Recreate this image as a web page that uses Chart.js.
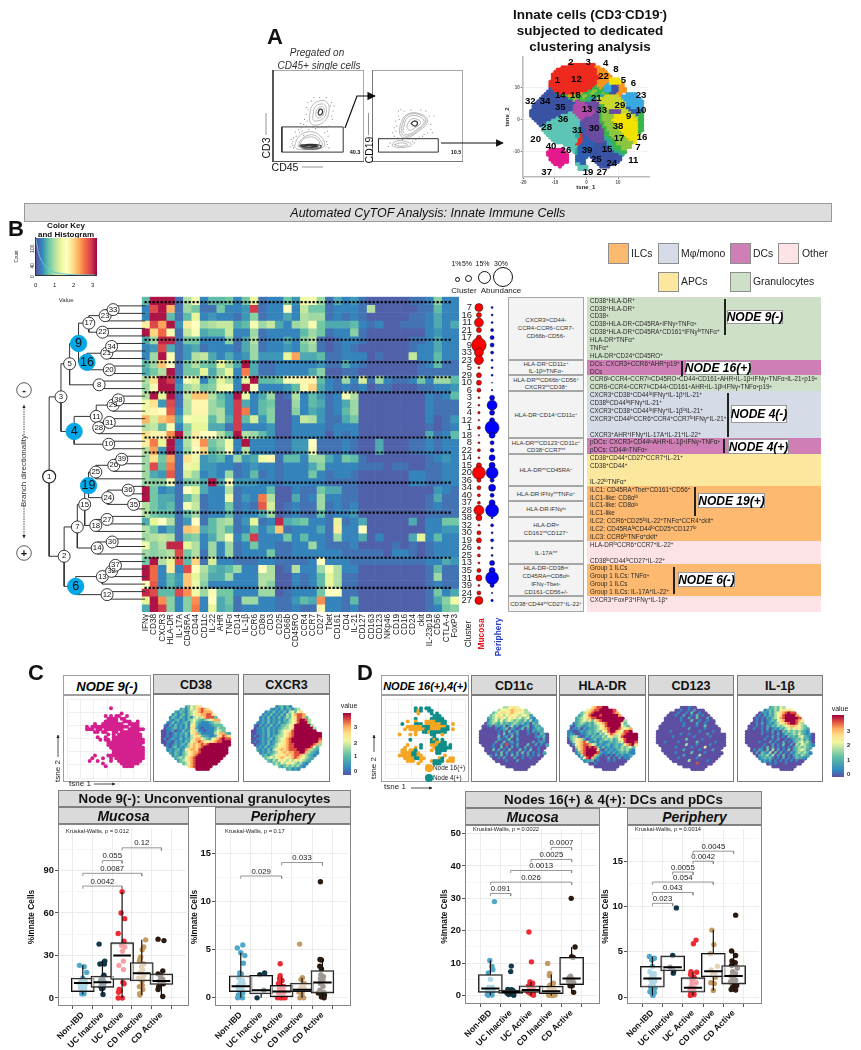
<!DOCTYPE html>
<html><head><meta charset="utf-8">
<style>
html,body{margin:0;padding:0;background:#fff;width:861px;height:1050px;overflow:hidden}
#root{position:relative;width:861px;height:1050px;overflow:hidden;font-family:"Liberation Sans",Arial,sans-serif;color:#111;filter:blur(.3px)}
.t{position:absolute;white-space:nowrap;line-height:1}
sup{font-size:70%;line-height:0;vertical-align:baseline;position:relative;top:-.4em}
svg{position:absolute;left:0;top:0;pointer-events:none}
</style>
<script src="https://cdn.jsdelivr.net/npm/chart.js@4"></script>
</head><body><div id="root"></div>
<script>
/* ---------- heatmap values ---------- */
const markers=["IFNγ","CD38","CXCR3","HLA-DR","IL-17A","CD45RA","CD44","CD11c","IL-22","AHR","TNFα","CD14","IL-1β","CCR6","CD8α","CD3","CD25","CD66b","CD45RO","CCR4","CCR7","CD27","Tbet","CD161","CD4","IL-21","CD127","CD163","CD123","NKp46","CD19","CD16","CD24","ckit","IL-23p19","CD56","CTLA-4","FoxP3"];
const clusters=[7,16,11,21,17,9,33,23,5,29,10,6,3,2,4,12,1,18,8,22,14,15,20,36,34,40,37,28,38,32,30,19,26,25,13,35,31,39,24,27];
const heatRows=[
[6,31,31,31,2,10,15,3,6,6,7,3,7,13,2,3,3,7,4,14,15,9,2,5,3,4,2,1,1,1,1,1,2,2,3,8,3,3],
[3,28,31,22,2,9,7,2,2,7,3,3,4,29,2,3,3,16,3,11,7,7,2,3,3,3,2,10,1,1,1,1,1,2,2,6,3,3],
[3,31,31,6,2,6,13,3,4,3,3,2,4,8,2,3,3,5,3,10,9,9,2,3,2,3,2,1,1,1,1,1,2,2,3,5,3,3],
[18,28,23,31,4,18,16,9,10,11,11,5,6,15,9,11,5,3,9,10,15,7,5,5,5,6,3,2,3,1,1,2,2,2,3,5,3,5],
[31,20,26,15,2,11,15,5,6,6,11,3,3,9,2,3,3,3,3,6,9,7,2,3,3,8,2,1,1,1,1,1,1,1,3,4,3,3],
[5,9,30,30,2,7,7,3,3,3,8,2,5,10,2,3,3,5,3,8,10,2,1,2,3,3,2,1,1,1,1,1,2,2,3,5,3,3],
[3,4,28,5,2,4,5,2,3,3,3,2,5,9,2,3,3,4,3,7,9,2,1,2,3,2,1,1,1,1,1,1,2,3,3,5,3,3],
[3,9,31,15,2,4,10,11,5,3,5,3,4,9,4,4,4,13,23,5,5,6,2,2,3,3,3,1,2,1,1,1,11,3,3,6,3,3],
[6,9,21,16,2,7,10,7,6,13,9,5,31,5,2,2,3,3,3,3,3,4,2,2,5,3,2,1,1,1,1,1,1,2,3,6,2,2],
[5,7,10,31,2,7,7,13,5,9,13,3,25,5,2,2,3,3,3,3,5,8,1,1,2,2,1,1,1,1,1,1,1,2,2,2,2,2],
[10,19,31,29,3,15,13,3,7,13,10,3,13,31,6,6,7,15,15,17,17,6,3,2,9,3,12,2,9,3,2,2,3,7,3,9,9,6],
[9,15,31,31,4,9,11,7,8,14,15,3,31,16,3,3,3,4,6,15,20,5,3,2,3,2,3,1,2,2,1,1,1,2,2,3,3,4],
[10,31,13,31,2,11,21,21,10,6,4,31,14,3,5,9,1,2,10,3,6,4,2,3,15,10,1,1,1,1,1,1,1,1,3,2,3,6],
[14,19,4,28,2,10,17,17,9,7,4,29,5,3,6,7,1,1,9,3,6,5,2,3,5,9,1,1,1,1,1,1,1,1,3,2,2,2],
[14,17,16,27,3,10,17,17,9,10,4,29,25,3,6,8,1,1,8,3,5,4,2,3,6,9,1,1,1,1,1,1,1,1,3,2,2,2],
[22,12,21,23,5,15,14,14,6,10,5,29,6,12,4,8,1,1,3,11,10,4,2,2,5,7,1,1,1,1,1,1,1,1,3,1,2,4],
[10,11,6,15,3,8,13,13,5,5,2,29,3,3,3,4,1,1,3,3,3,3,2,3,3,3,1,1,1,1,1,1,1,1,2,1,2,3],
[19,17,17,24,31,9,18,16,16,10,6,31,10,9,6,4,1,1,3,3,3,3,1,3,2,3,1,1,1,1,1,1,1,1,5,2,3,6],
[18,25,13,31,3,10,17,24,7,9,14,3,31,3,3,3,2,2,4,4,16,2,2,2,3,2,1,1,5,1,1,1,2,2,3,2,3,3],
[10,23,4,31,3,9,16,20,6,8,15,3,10,3,3,3,2,2,4,4,15,2,2,2,3,2,1,1,5,1,1,1,2,2,3,2,3,3],
[9,19,7,23,2,19,14,4,5,6,3,9,4,5,14,17,2,6,6,3,9,9,5,3,7,6,2,1,1,1,1,1,1,1,2,3,4,3],
[9,28,6,25,2,14,13,4,4,3,3,2,3,4,3,3,2,3,3,3,5,8,3,3,3,3,2,2,2,1,2,2,1,1,2,2,3,3],
[9,5,4,27,2,12,9,3,4,3,9,2,3,6,2,3,2,3,3,3,7,3,2,3,3,2,1,1,1,1,1,1,3,3,2,2,3,3],
[9,8,8,15,2,7,8,5,31,5,15,4,4,4,3,3,2,3,3,3,3,3,2,2,2,2,1,1,1,1,1,1,3,3,2,2,3,3],
[31,7,3,4,2,16,13,5,3,3,10,2,3,3,3,6,1,1,3,2,2,7,5,5,2,2,1,1,1,1,1,1,1,1,1,4,3,2],
[31,7,5,5,2,6,10,2,3,3,14,2,4,3,25,10,1,1,5,2,3,9,3,3,2,2,1,1,1,1,1,1,1,1,2,5,2,2],
[10,7,5,6,2,15,11,2,3,3,7,2,3,2,27,12,1,2,3,2,2,9,2,3,2,3,1,1,1,1,1,1,1,1,2,3,2,2],
[10,7,6,6,2,6,9,2,3,3,6,2,3,3,5,9,1,2,3,2,2,6,2,3,3,4,1,1,1,1,1,1,1,1,2,2,2,2],
[5,13,16,10,2,4,16,2,6,9,10,2,4,13,2,3,30,5,6,7,3,3,2,13,2,3,5,1,1,1,1,1,5,1,3,3,7,7],
[10,7,3,5,2,21,20,5,6,9,6,2,3,6,3,5,21,2,3,3,3,5,2,18,3,3,16,1,1,1,1,1,1,1,3,3,4,4],
[9,10,11,10,2,7,8,3,5,9,15,3,6,29,3,3,3,7,3,6,3,3,2,9,3,3,5,1,3,1,1,1,5,13,3,6,3,3],
[14,8,10,30,30,13,10,3,9,3,9,2,3,7,3,3,2,2,3,3,9,3,2,2,2,3,1,1,1,1,2,1,2,1,2,3,3,3],
[9,8,9,10,28,7,10,2,9,3,9,2,3,3,3,7,2,2,3,3,3,3,3,3,2,2,2,2,2,1,3,3,2,1,2,3,3,3],
[7,31,10,13,28,6,20,2,12,3,3,2,2,2,3,3,2,2,2,2,3,16,3,3,3,2,2,2,2,2,2,2,2,2,3,3,5,4],
[31,26,3,18,3,28,16,10,6,5,6,9,3,3,16,10,1,2,10,3,3,9,15,10,3,3,1,1,1,1,1,1,1,1,2,6,2,2],
[31,26,3,6,4,21,13,9,5,5,9,3,3,3,10,10,1,1,3,2,3,6,13,10,2,2,1,1,1,1,1,1,1,1,2,9,2,2],
[16,27,3,6,4,21,14,8,3,3,3,3,3,3,10,8,1,1,3,2,3,6,13,10,2,2,1,1,1,1,1,1,1,1,2,3,2,2],
[30,28,6,6,28,24,14,9,15,7,7,3,3,3,9,9,1,2,3,3,3,7,16,16,2,2,1,1,1,1,1,1,1,1,2,7,3,5],
[13,31,24,8,3,8,24,3,16,5,7,2,9,9,3,3,2,2,4,6,5,24,3,3,2,6,1,1,1,1,1,1,1,1,2,5,8,14],
[5,31,29,8,3,8,25,3,13,5,6,2,3,3,3,3,2,2,3,2,2,17,3,3,2,3,1,1,1,1,1,1,1,1,2,3,7,8]];
const rowBreaks=[0,5,8,10,12,18,20,24,28,34,38];
const mucosaAbund=[4,2.5,4.5,2.5,2.5,7.3,4.5,4.5,1,2.5,2.5,2,1,1,1.2,.8,1.5,.8,1,1.5,1,2.5,6.5,2,2,1.5,1.5,5,3,1,2,2.5,1.5,1.5,1,2,3,1,2,4];
const peripheryAbund=[1,1,1,1.5,2,2,1.5,1,1,1,.5,.8,2.5,5,2.5,2.5,7,3,2,2,3,3,6,2,3.5,2,3,6.5,1,1.5,1,1.5,1,1,2.5,3,6.5,2,.7,1.2];
const histCounts=[[0,118],[.1,88],[.2,62],[.35,42],[.5,30],[.7,19],[.9,12],[1.1,8],[1.4,5],[1.7,3],[2,2],[2.5,1],[3.1,1]];
/* ---------- dendrogram ---------- */
const treeNames=['1','3','2','5','4','9','8','17','16','23','22','33','21','34','20','11','10','29','38','28','31','7','6','15','14','19','18','25','24','26','39','36','35','27','30','13','32','37','12'];
const treeDepths=[41.7,54,57.3,63,67.7,72.3,93.7,83,81,100,97.3,108.3,101.7,106.7,104.3,90.7,103.7,108.3,113.7,93.3,104.3,71,69.3,78.7,91.7,82.7,90.3,90.3,102.7,109,117.3,124,129.7,102,107.3,97,106.7,110.7,102];
const treeRows=[23.2,12.6,33.8,8.2,17.2,5.5,11,2.8,8,1.8,4,1,6.8,5.9,9,15.2,18.9,13.7,13,16.7,16,29.9,37.8,26.9,32.7,24.4,29.7,22.6,26,21.7,20.9,25,26.9,28.9,31.9,36.5,35.8,35,38.9];
const treeParents=[null,'1','1','3','3','5','5','9','9','17','17','23','16','21','16','4','4','11','29','11','28','2','2','7','7','15','15','19','19','25','26','24','24','18','14','6','13','32','6'];
const treeLeaves=[[],[],[],[],[],[],[10,11],[],[],[2],[3,4],[0,1],[7],[5,6],[8,9],[],[18,19],[14],[12,13],[17],[15,16],[],[],[],[33],[],[30],[23],[],[22],[20,21],[24,25],[26,27],[28,29],[31,32],[37],[36],[34,35],[38,39]];
const blueNodes=['9','16','4','19','6'];
/* ---------- gating plots ---------- */
const gate1Rings=[[[40,51],[43,62],[52,68],[61,66],[63,55],[58,44],[47,39],[41,42]],[[44,51],[46,60],[52,64],[58,63],[60,55],[56,47],[48,44],[44,46]],[[47,52],[49,58],[53,61],[57,59],[57,54],[54,49],[49,48]],[[50,53],[52,58],[55,57],[55,53],[52,51]],[[22,14],[26,24],[34,30],[44,31],[53,26],[58,16],[52,11],[34,10],[25,11]],[[26,14],[30,22],[38,27],[46,27],[52,22],[55,15],[46,11],[34,11]],[[28,14],[32,22],[40,25],[48,23],[52,16],[46,12],[34,12]],[[28,15],[36,16],[48,16],[54,14],[48,11],[34,11]],[[30,14],[38,15],[50,14],[44,12],[34,12]],[[32,13.5],[40,14.5],[49,13.5],[42,12.5],[35,12.5]]];
const gate1Dots=[[20,20],[24,26],[36,38],[34,46],[38,58],[66,50],[28,30],[60,36],[62,26],[21,12],[19,17],[23,31],[30,36],[39,34],[36,52],[42,68],[65,62],[68,56],[58,30],[60,20],[29,41],[33,27],[47,35],[54,37],[21,24],[18,22],[20,15],[17,13],[27,34],[31,32],[33,40],[37,44],[38,66],[36,60],[45,72],[52,72],[60,72],[66,66],[69,62],[67,46],[63,38],[57,36],[50,36],[44,37],[61,32],[61,16],[63,12]];
const gate1Box=[[7,7],[80,7],[80,37],[7,37],[7,7]];
const gate2Rings=[[[29,39],[36,51],[52,53],[62,44],[50,31],[36,24],[29,28]],[[31,38],[37,50],[51,52],[60,44],[49,32],[37,26],[31,29]],[[33,36],[38,48],[50,50],[58,43],[48,33],[38,28],[33,30]],[[37,38],[42,46],[50,46],[54,42],[47,36],[40,33]],[[42,41],[46,44],[50,42],[47,38]],[[19,15],[24,20],[34,20],[43,16],[36,13],[24,13]],[[22,16],[30,18],[38,16],[30,14]]];
const gate2Dots=[[22,36],[24,44],[27,50],[20,30],[26,24],[30,58],[66,40],[70,50],[60,56],[56,26],[48,22],[44,20],[22,26],[32,22],[68,30],[62,30],[24,32],[25,38],[28,46],[27,56],[34,56],[42,57],[54,57],[64,50],[66,34],[58,28],[52,25],[17,18],[15,14],[46,18]];
const gate2Box=[[3,7],[75,7],[75,23],[3,23],[3,7]];
/* ---------- t-SNE maps, read as coarse rasters ---------- */
const tsneRaster=[
"                RRRRRRRRRRR",
"             RRRRRRRRRRRRRROO",
"           RRRRRRRRRRRRRRRRROOO",
"          RRRRRRRRRRRRRRRRRROOOO",
"         RRRRRRRRRRRRRRRRRRROOOOO",
"         RRRRRRRRRRRRRRRRRRRROOOOO",
"         RRRRRRRRRRRRRRRRRRRROOOOYYYY",
"        RRRRRRRRRRRRRRRRRRRROOOOOYYYYY",
"        RRRRRRRRRRRRRRRRRRRROOOOSYYYYYO",
"        RRRRRRRRRRRRRRRRRRREOOOSSSBBPOO",
"        BRRRRRRRRRRRRRRRRREEEOESSSBBBOOO",
"       BBBRRRRRRRRRRRRRREEGGEEESSSBBBOOO",
"      BBBBBERRRRRRRROOEEEGGEEEGEEBBBOO  SSSS",
"     BBBBBBBBEEEOOGEEEGGEEEEEAALLLLLLOSSSSSSS",
"    BBBBBBBBBBBBEEGGEEGEAAAALLLLLLLLLLSSSSSSSS",
"   BBBBBBBBBBBBBBBGMMEEEAAPPLLLLLLLLLLLSSSSSSSS",
"  BBBBBBBBBBBBBBBBBMMMMPPPPPPLLLLLLLLLLLSSSSSSS",
" BBBBBBBBBBBBBBBBBMMMMMMPPPPPEELLLLLLLLLSSSSSSS",
" BBBBBBBBBBBBBBBBBMMMMMMMMPPAEELLLLLLLLLNNSSSSS",
"BBBBBBBBBBBBBBBBBBMMMMMMMMMPPEEGGPPPPPLLLNNNNNN",
"BBBBBBBBBBBBBBBBTTMMMMMMMMMPPEGGGPPPPPLLLLNNNNE",
"BBBBBBBBBBBBBTTTTTTMMMMMMMPPPEGGGGGYYYYYYLLLNEE",
" BBBBBBBBBBTTTTTTTTTMMMPPPPPPEGGGGGYYYYYYYYLLEE",
"  BBBBBBBTTTTTTTTTTTTMPPPPPPPEGGGGYYYYYYYYYYLEE",
"   BBBBTTTTTTTTTTTTTTNPPPPPPPEEGGGGYYYYYYYYYYEE",
"    BBTTTTTTTTTTTTTTTNPPPPPPPPEGGGGYYYYYYYYYYEE",
"     TTTTTTTTTTTTTTTTNPPPPPPPPEEGGGGGYYYYYYYYEE",
"     TTTTTTTTTTTTTTTANNPPPPPPPPEGGGGGYYYYYYYYEE",
"      TTTTTTTTTTTTTAANNPPPPPPPPEEGGGGGYYYYYYYE",
"       TTTTTTTTTTTTAARNPPPPPPPPEEGGGGGGYYYYYY",
"        TTTTTTTTTTTAARNNPPPPPPPAEEGGGGGGYYYYY",
"         TTTTTTTTTTTRRNNNPPPPPPAAEEGGGGGGYYY",
"          TTTTTTTTTTRRNNNNNPPPPBAAEEGGGGGGGY",
"              TTTTTRRNNNNNNBBBBBAAEEGGGGGG",
"                TTTTNNNNNNNBBBBBBAAEEEGGGG",
"        KKKKKK   TTANNNNNNBBBBBBBAAEEEGG",
"       KKKKKKKK   TANNNNNNBBBBBBBBBAAEEE",
"       KKKKKKKKK   ANNNNNBBBBBBBBBBBBAA",
"        KKKKKKKK   NNNNN BBBBBBBBBBBBB",
"        KKKKKKKK   NNNN   BBBBBBBBBBBB",
"         KKKKKKK   NNNN    BBBBBBBBBB",
"          KKKK     TTNN     BBBBBBB",
"            K       TTTT     BBBB",
"                    TTTT"];
const clusterNames=[2,3,4,22,8,1,12,5,6,23,14,18,21,29,32,34,35,13,33,10,9,36,38,28,31,30,16,17,20,40,7,15,26,39,11,25,24,37,19,27];
const clusterX=[-4.9,.5,6.1,5.4,9.3,-9.2,-3.2,11.7,14.9,17.3,-8.3,-3.5,3.1,10.6,-17.8,-13.1,-8.3,.2,4.8,17.3,13.4,-7.4,10,-12.6,-2.9,2.4,17.6,10.3,-16.1,-11.2,16.3,6.5,-6.5,.2,14.8,3.1,8,-12.6,.5,4.9];
const clusterY=[17.7,17.7,17.6,13.5,15.8,12.2,12.4,12.1,11.2,7.6,7.7,7.7,6.5,4.3,5.8,5.8,3.9,3.3,2.8,2.8,1,.1,-2.2,-2.5,-3.4,-2.8,-5.4,-6,-6.3,-8.3,-8.7,-9.3,-9.6,-9.6,-12.7,-12.3,-13.5,-16.5,-16.4,-16.4];
const cd38Raster=[
"         235466",
"       23135467876",
"     21321345678777",
"    1312313456677886",
"   132132131454678883",
"   2123121345432345677",
"  11312123145321112344",
" 1021312131563111112333",
" 01123121316621011112433",
"001120113125641101113543",
"00101212231567311111457732",
"00101212131466632211266876",
"01012113122467754325678988",
"00110212132567876566788999",
" 0101212314676787899999999",
"  10231213467678999999999",
"  12123125677689999999999",
"   2132134567789999999999",
"    13213456789999999999",
"     234356789999999999",
"      2345678999999999",
"        3457899999999",
"          678999999",
"             99999"];
const cxcr3Raster=[
"         123131",
"       21213123134",
"     12131213145356",
"    1213121314357887",
"   121312131243568873",
"   1213121213245689984",
"  11213121312345689994",
" 1021213121334569999994",
" 01121312123445699999994",
"001121312134556899999999",
"00112131213456789999999999",
"01012131234456789999999999",
"00112123134557899999999998",
"01012131234567899999999997",
" 0112131245567889999999874",
"  12131234566788999999853",
"  21213145676788899987432",
"   1213234567677889974321",
"    23134565676788764321",
"     345456765678765432",
"      3243565454565432",
"        3435456543421",
"          3234343421",
"             23121"];
const cd11cRaster=[
"         445565",
"       45556766654",
"     34566567655544",
"    3456545655645542",
"   234546545654534521",
"   1345353454343242412",
"  02343242323432312032",
" 0012022130241201230132",
" 00000101230210130201232",
"000000010203012000102122",
"00000001030120200010010320",
"00000003012030100000012130",
"00000002101300200000001020",
"00000020030120100000201210",
" 0000100208010200030020102",
"  00010030102010020100100",
"  0003020103000301030010",
"   0001030201020302010102",
"    10203010302010201020",
"     001020002001001000",
"      0000100020000000",
"        0000000000000",
"          000000000",
"             00000"];
const hladrRaster=[
"         678899",
"       56788999998",
"     34678999999987",
"    2356899989999997",
"   234567889999999999",
"   2345463678999999994",
"  12343232456789999953",
" 1023212323456899999543",
" 01120212234567899986567",
"110012123234356899765889",
"12100112323143568765789999",
"13441012132324356445899999",
"03456420123123434235689999",
"01456786212132123234589998",
" 0256788754121231232357896",
"  04678989831312123243453",
"  02678999961021212343421",
"   1378999982112121232311",
"    14899973101010212112",
"     258973100020102011",
"      1223010001010000",
"        0010000000000",
"          000000000",
"             00000"];
const cd123Raster=[
"         000100",
"       00100102000",
"     00010010300100",
"    0001002001030100",
"   000000100200300020",
"   0000001000300100100",
"  00000000100002001000",
" 0000000001000010030000",
" 00000000000200000100000",
"000001000000000010000100",
"00000000010010000002000000",
"00000010000000100000100000",
"00000000000300000100000000",
"00010000100000030000001000",
" 0000000000400010000100000",
"  00000100000100005000000",
"  0000000020000010000200",
"   0000100000300001000000",
"    00000020000040000000",
"     000100000010000000",
"      0000004000000100",
"        0000000800000",
"          000000000",
"             00000"];
const il1bRaster=[
"         234354",
"       12324356565",
"     01213245678988",
"    0102132456899997",
"   010102134578999998",
"   0101012325679999875",
"  00102012134567899864",
" 0001010213243456776543",
" 00100102012132454565432",
"000000101020103243434321",
"00000010001020132343532120",
"00000000102010103232453210",
"00000001001020010123342310",
"00000100020100201023453420",
" 0000001002010300204354321",
"  00001030201010102343432",
"  0102103040201030234542",
"   0203214030201021343431",
"    02324140203010232432",
"     123231010201013221",
"      1212010101010100",
"        0101000100000",
"          000000000",
"             00000"];
const node9Raster=["","","",
"                #","",
"                    #",
"              # # ##  #",
"               #### ##",
"              #####  ###  #",
"          #  ########  ####",
"       # ############## ###",
"       ### ## #######  ######",
"          ## ##  ## #######",
"               # # #########",
"           #  #  ###########",
"            # ## ############",
"               ##############",
"               #############",
"                #############",
"                 ############",
"                 ############",
"          #    ##############",
"         #   #  # ###########",
"        #  #    #  #########",
"             #      #######",
"              #      ####"];
const node164Raster=["","","",
"           t t tt",
"           tot  tt",
"            o    t t",
"                  ttt",
"           t     ttttt",
"        o  o   ooootttt",
"      t    ttt oooooott  o",
"        ooooootttoooooot",
"       o oooooottoooottt o",
"           o  ttotttttt",
"     o   o o     tt  o",
"                  t",
"         t       tot t",
"                 ttoott",
"        o    t   ooottt t",
"       o   o t    otttttt",
"      oo oot     o tttt",
"      ooootto      tt",
"     ooooottoo        o",
"       oooottoo     ot  oo",
"        ooo  o   otttt ooo",
"            o     ttt"];
/* ---------- box plots ---------- */
const groups=["Non-IBD","UC Inactive","UC Active","CD Inactive","CD Active"];
const cMucPts=[
[[-.17,23],[.07,22],[.2,18],[0,14],[-.1,12],[.12,12],[.02,11],[-.15,10],[.13,10],[-.05,9],[.05,8],[-.12,7],[.1,7],[-.05,6],[.05,5],[0,4],[.06,3],[-.05,3]],
[[-.17,38],[.12,26],[.07,25],[-.13,24],[.1,24],[.08,16],[-.05,14],[.02,13],[-.1,12],[.1,11],[-.03,10],[.05,9],[-.08,8],[.03,7],[-.04,6.5],[.03,2.5]],
[[0,75],[-.05,60],[.13,56],[-.2,45.5],[.1,40],[-.02,37],[.13,36],[.02,33],[.07,26],[-.16,23],[.07,20],[.04,11],[.1,10],[-.15,6],[-.1,5],[-.18,4],[-.2,0],[.01,0]],
[[.2,41],[.1,36],[.02,34],[-.05,29],[-.08,28],[-.12,26],[.1,24],[-.02,22],[.05,20],[-.08,18],[.1,16],[-.15,14],[.05,14],[-.03,13],[.02,12],[.02,9],[-.12,8],[.05,6],[-.1,3],[-.09,2]],
[[-.17,41.5],[.13,40.5],[.07,19],[-.17,17],[-.03,15],[.07,13],[-.1,12],[.03,11],[.1,10],[-.14,8],[-.17,6],[.07,1]]];
const cMucQ1=[4.5,7.5,13,12,9.5],cMucMed=[10.5,11,30,17.5,12],cMucQ3=[14,15.5,39,25,17],cMucLo=[2.5,2.5,0,2,1],cMucHi=[23,26,75,41,19];
const cMucBr=[[1,3,79,"0.0042"],[1,4,88,"0.0087"],[2,3,97,"0.055"],[3,5,106,"0.12"]];
const cPerPts=[
[[.1,5.5],[-.17,5.2],[0,4.7],[.2,4.4],[.13,3.6],[-.05,2.6],[.03,2.5],[-.1,2.1],[.08,1.8],[-.02,1.6],[.12,1.5],[-.1,1.3],[.03,1.1],[-.12,1],[.07,.9],[-.05,.8],[.1,.5],[-.12,.3],[-.03,.1],[-.15,0],[.08,0]],
[[.17,2.6],[-.07,2.4],[.13,.8],[-.2,0]],
[[-.07,3.55],[-.07,2.3],[-.1,2],[.02,1.8],[-.15,1.5],[.1,1.2],[-.1,1],[.05,.9],[-.05,.8],[.12,.6],[-.15,.5],[.02,.4],[-.08,.2],[.1,.1],[-.2,0],[-.05,0],[.05,0],[.17,0]],
[[-.12,5.6],[.02,2.1],[-.05,1.9],[.1,1.5],[-.02,1.2],[.1,1],[-.1,.9],[.05,.8],[-.15,.6],[0,.4],[-.1,0],[.08,0]],
[[-.1,12.1],[-.12,4],[-.05,3.95],[-.13,3.3],[-.05,3],[-.08,2.4],[.05,2.2],[-.1,2],[.02,1.8],[-.1,1.5],[.03,1.2],[-.12,.8],[.05,.6],[-.2,.5],[0,.4],[.1,.3],[-.05,.1],[.08,0]]];
const cPerQ1=[.65,.4,.1,.65,.5],cPerMed=[1.2,.8,.65,.85,1.6],cPerQ3=[2.3,2.35,1.3,1.55,2.85],cPerLo=[0,0,0,0,0],cPerHi=[4.7,2.6,2.2,2.1,4];
const cPerBr=[[1,3,12.7,"0.029"],[3,5,14.1,"0.033"]];
const dMucPts=[
[[.2,29],[-.03,10.8],[.08,9],[.12,8],[-.1,7],[0,5],[-.08,2.5],[.1,2.6],[.03,2.2],[-.15,1.8],[.13,1.5],[0,1.2],[-.1,.8],[.05,.6],[-.15,.3],[-.1,.1],[.08,.2]],
[[.03,9.1],[0,7.4],[-.14,1.9],[.05,1.8],[.12,1.5],[-.08,1.2],[.02,1],[.15,.9],[-.18,.8],[-.05,.6],[.1,.5],[-.1,.3],[.15,.1]],
[[-.1,19.6],[.02,10.4],[-.05,4.2],[.08,3.8],[-.12,3],[0,2.6],[.1,2.2],[-.08,2],[.02,1.8],[.13,1.4],[-.15,1.2],[0,1],[-.07,.9],[.12,.7],[.03,.4],[.12,.1]],
[[-.18,9.9],[-.08,6.8],[-.1,6.2],[.1,3.8],[-.07,3.2],[.05,2.8],[-.13,2.5],[.02,2.1],[.13,1.8],[-.05,1.5],[.05,1.2],[-.15,.9],[.1,.6],[-.05,.4],[.18,.2],[-.12,.1],[.05,0]],
[[-.02,30],[.17,15],[0,12],[.08,11.8],[-.05,6],[-.12,5.5],[.05,5],[-.15,4.5],[.1,4],[-.08,3],[.03,3],[.1,1]]];
const dMucQ1=[1,.7,1,.6,3.4],dMucMed=[2.2,1.1,1.7,1.3,5.3],dMucQ3=[6.5,1.7,3,2.9,11.8],dMucLo=[.1,.1,.1,0,1],dMucHi=[10.8,1.9,4.2,6.5,15];
const dMucBr=[[1,2,31.5,"0.091"],[1,5,35,"0.026"],[2,5,38.6,"0.0013"],[3,5,42,"0.0025"],[4,5,45.7,"0.0007"]];
const dPerPts=[
[[-.15,4.5],[.1,4.3],[-.03,4.1],[0,3.4],[-.12,2.8],[.1,2.6],[-.02,2.4],[.08,2.2],[-.1,2],[.12,1.8],[-.03,1.6],[.04,1.4],[-.1,1.2],[.12,1],[-.05,.9],[.04,.7],[-.12,.6],[.1,.5],[0,.3],[.03,.2]],
[[.18,9.85],[0,4.6],[-.13,3.3],[.05,2.9],[.03,2.65]],
[[.15,6.3],[.02,5.9],[-.1,2.8],[.18,2.75],[-.12,2.5],[.05,2.2],[-.05,1.9],[.15,1.6],[-.05,1.5],[-.1,1.1],[.05,1],[-.14,.8],[0,.6],[-.1,.4],[-.13,.2],[.05,.3]],
[[-.07,7.4],[.03,5.8],[-.15,4.8],[.2,3.4],[-.1,3],[.08,2.6],[-.03,2.5],[.1,2.2],[-.12,1.6],[.05,1.5],[0,.75]],
[[.1,9.05],[-.1,5.1],[.1,4.6],[-.08,4],[.08,3.8],[-.1,3.5],[.18,3.2],[-.05,2.8],[.1,2.6],[-.12,2.3],[0,2.1],[.1,1.9],[-.15,1.7],[.03,1.6],[.15,1.3],[-.05,1.1],[.03,.9],[-.12,.85],[.1,.8]]];
const dPerQ1=[1.1,2.9,.55,2.25,1.45],dPerMed=[2.05,3.3,1.05,2.85,2.35],dPerQ3=[3.4,4.55,2.15,4.85,3.5],dPerLo=[.2,2.6,.2,.7,.8],dPerHi=[4.5,4.6,2.8,7.4,5.1];
const dPerBr=[[1,2,10.35,"0.023"],[1,3,11.55,"0.043"],[1,4,12.7,"0.054"],[2,3,13.8,"0.0055"],[3,4,15,"0.0042"],[3,5,16.1,"0.0045"]];
/* ---------- phenotype table text ---------- */
const phenoRows=["CD38^+HLA-DR^+","CD38^+HLA-DR^+","CD38^+","CD38^+HLA-DR^+CD45RA^+IFNγ^+TNFα^+","CD38^+HLA-DR^+CD45RA^+CD161^+IFNγ^loTNFα^+","HLA-DR^+TNFα^+","TNFα^+","HLA-DR^+CD24^+CD45RO^+","DCs: CXCR3+CCR6^+AHR^+p19^+","DCs","CCR6^loCCR4^+CCR7^loCD45RO^+CD44^+CD161^+AHR^+IL-1β^+IFNγ^+TNFα^+IL-21^+p19^+","CCR6^+CCR4^+CCR7^loCD44^+CD161^+AHR^+IL-1β^loIFNγ^+TNFα^+p19^+","CXCR3^+CD38^+CD44^loIFNγ^+IL-1β^+IL-21^+","CD38^loCD44^loIFNγ^+IL-21^+","CXCR3^+CD38^+CD44^loIFNγ^+IL-1β^loIL-21^+","CXCR3^+CD44^loCCR6^+CCR4^+CCR7^loIFNγ^+IL-21^+","","CXCR3^+AHR^+IFNγ^+IL-17A^+IL-21^+IL-22^+","pDCs: CXCR3^+CD44^loAHR^+IL-1β^+IFNγ^+TNFα^+","pDCs: CD44^loTNFα^+","CD38^+CD44^+CD27^+CCR7^+IL-21^+","CD38^+CD44^+","","IL-22^loTNFα^+","ILC1: CD45RA^+Tbet^+CD161^+CD56^+","ILC1-like: CD8α^lo","ILC1-like: CD8α^lo","ILC1-like","ILC2: CCR6^+CD25^loIL-22^+TNFα^+CCR4^+ckit^+","ILC2: CD45RA^loCD44^loCD25^+CD127^lo","ILC3: CCR6^loTNFα^+ckit^+","HLA-DR^loCCR6^+CCR7^+IL-22^+","","CD38^loCD44^loCD27^+IL-22^+","Group 1 ILCs","Group 1 ILCs: TNFα^+","Group 1 ILCs","Group 1 ILCs: IL-17A^+IL-22^+","CXCR3^+FoxP3^+IFNγ^+IL-1β^+",""];
const bandStarts=[0,8,10,12,18,20,24,31,34,38];
const bandTypes=["Granulocytes","DCs","Granulocytes","Mφ/mono","DCs","APCs","ILCs","Other","ILCs","Other"];
const cellStarts=[0,8,10,12,18,20,24,26,28,31,34,38];
const cellLines=[["CXCR3^loCD44^+","CCR4^+CCR6^+CCR7^+","CD66b^+CD56^+"],["HLA-DR^+CD11c^+","IL-1β^loTNFα^+"],["HLA-DR^intCD66b^+CD56^+","CXCR3^intCD38^+"],["HLA-DR^+CD14^+CD11c^+"],["HLA-DR^intCD123^+CD11c^+","CD38^+CCR7^int"],["HLA-DR^intCD45RA^+"],["HLA-DR^-IFNγ^intTNFα^+"],["HLA-DR^-IFNγ^hi"],["HLA-DR^lo","CD161^intCD127^+"],["IL-17A^int"],["HLA-DR^+CD38^int","CD45RA^intCD8α^lo","IFNγ^+Tbet^+","CD161^+CD56+/-"],["CD38^+CD44^intCD27^+IL-22^+"]];

/* ---------- helpers ---------- */
const root=document.getElementById('root');
const spectral=['#5e4fa2','#3288bd','#66c2a5','#abdda4','#e6f598','#ffffbf','#fee08b','#fdae61','#f46d43','#d53e4f','#9e0142'];
const digitColors=['#5e4fa2','#3288bd','#4aa5b0','#66c2a5','#abdda4','#f0f5a0','#fee08b','#fdae61','#e0503f','#9e0142'];
const typeColors={"ILCs":"#fdb96f","Mφ/mono":"#d6dbe8","DCs":"#cf7fb5","Other":"#fde3e5","APCs":"#fbe79d","Granulocytes":"#cfe0c8"};
const clusterColors={R:'#ee2a1e',O:'#f7941d',Y:'#f2e200',L:'#c9d82c',G:'#8cc63f',E:'#39b54a',T:'#5dc5b5',B:'#3a53a4',P:'#6a4ca0',M:'#b04aa8',S:'#39a9e0',K:'#e6198d',N:'#2f5fb0',A:'#2fa89a'};
const groupColors=['#4fa8c9','#12394a','#ee2b35','#c49a62','#2b1a10'];
function hex2(c){return [1,3,5].map(i=>parseInt(c.substr(i,2),16));}
function heatColor(v){const t=Math.min(10,v/32*10),i=Math.min(9,Math.floor(t)),f=t-i,a=hex2(spectral[i]),b=hex2(spectral[i+1]);
  return 'rgb('+a.map((x,k)=>Math.round(x+(b[k]-x)*f)).join(',')+')';}
function fmt(s){return s.replace(/\^(\+|-|hi|lo|int)/g,'<sup>$1</sup>');}
function T(x,y,s,o={}){const d=document.createElement('div');d.className='t';
  const ax=o.a==='l'?'0':o.a==='r'?'-100%':'-50%';
  d.style.cssText+=`left:${x}px;top:${y}px;font-size:${o.s||8}px;font-weight:${o.b?'bold':'normal'};font-style:${o.i?'italic':'normal'};color:${o.c||'#111'};transform:translate(${ax},-50%);`;
  if(o.r)d.style.transform=`translate(-50%,-50%) rotate(${o.r}deg)`;
  d.innerHTML=fmt(s);root.appendChild(d);return d;}
function R(x1,y1,x2,y2,bg,bd,bw){const d=document.createElement('div');
  d.style.cssText=`position:absolute;box-sizing:border-box;left:${x1}px;top:${y1}px;width:${x2-x1}px;height:${y2-y1}px;background:${bg||'transparent'};${bd?`border:${bw||1}px solid ${bd};`:''}`;
  root.appendChild(d);return d;}
function strip(x1,y1,x2,y2,s,o){const d=R(x1,y1,x2,y2,o.bg||'#d9dad9',o.bd||'#808080',o.bw||1.2);
  T((x1+x2)/2,(y1+y2)/2+.5,s,o);return d;}
function raster(rows,fn){const out=[];rows.forEach((line,r)=>{[...line].forEach((ch,c)=>{if(ch!==' ')out.push(fn(ch,c,r));});});return out;}
Chart.register({id:'ptxt',afterDatasetsDraw(chart){const ctx=chart.ctx;
  chart.data.datasets.forEach((ds,i)=>{if(!ds.txt)return;const m=chart.getDatasetMeta(i);
    ctx.save();ctx.textAlign='center';ctx.textBaseline='middle';
    m.data.forEach((el,j)=>{const t=ds.txt[j];if(t===''||t==null)return;
      const f=typeof ds.txtSize==='function'?ds.txtSize(j):ds.txtSize;
      ctx.font=(ds.txtWeight||'')+' '+f+'px "Liberation Sans",Arial,sans-serif';ctx.fillStyle=ds.txtColor||'#111';
      ctx.fillText(t,el.x,el.y+(ds.txtDy||0));});
    ctx.restore();});}});
function addChart(cfg,plot,gut){let [pl,pt,pr,pb]=plot;let [gl,gt,gr,gb]=gut||[0,0,0,0];
  const L=Math.floor(pl-gl),Rr=Math.ceil(pr+gr),Tp=Math.floor(pt-gt),B=Math.ceil(pb+gb);
  gl=pl-L;gr=Rr-pr;gt=pt-Tp;gb=B-pb;
  const c=document.createElement('canvas');const w=Rr-L,h=B-Tp;c.width=w;c.height=h;
  c.style.cssText=`position:absolute;left:${L}px;top:${Tp}px;width:${w}px;height:${h}px;`;root.appendChild(c);
  const o=cfg.options=cfg.options||{};o.responsive=false;o.animation=false;o.maintainAspectRatio=false;
  o.plugins=Object.assign({legend:{display:false},tooltip:{enabled:false}},o.plugins||{});
  const pad={left:gl,top:gt,right:gr,bottom:gb};
  Object.entries(o.scales||{}).forEach(([k,s])=>{if(s.display===false)return;
    const zero=ax=>{ax.paddingLeft=ax.paddingRight=ax.paddingTop=ax.paddingBottom=0;};
    if(k==='x'){pad.bottom=0;s.afterFit=ax=>{ax.height=gb;zero(ax);};}
    else{pad.left=0;s.afterFit=ax=>{ax.width=gl;zero(ax);};}});
  o.layout={padding:pad};return new Chart(c,cfg);}

/* ---------- Panel A ---------- */
T(275,37,'A',{s:22,b:1});
T(317,53,'Pregated on',{s:10,i:1,c:'#333'});
T(319,66,'CD45+ single cells',{s:10,i:1,c:'#333'});
function gatePlot(plot,rings,dots,box,nDark){
  const ds=rings.map((r,i)=>({type:'scatter',data:[...r,r[0]].map(p=>({x:p[0],y:p[1]})),showLine:true,tension:.45,pointRadius:0,borderWidth:nDark.includes(i)?1.3:.7,borderColor:nDark.includes(i)?'#333':'#9a9a9a',clip:false}));
  ds.push({type:'scatter',data:dots.map(p=>({x:p[0],y:p[1]})),pointRadius:.55,backgroundColor:'#777',borderWidth:0});
  ds.push({type:'scatter',data:box.map(p=>({x:p[0],y:p[1]})),showLine:true,pointRadius:0,borderWidth:1,borderColor:'#333'});
  addChart({type:'scatter',data:{datasets:ds},options:{scales:{x:{display:false,min:0,max:100},y:{display:false,min:0,max:100}}}},plot);
  R(plot[0],plot[1],plot[2],plot[3],null,'#a8a8a8',1);
}
gatePlot([272,70,364,162],gate1Rings,gate1Dots,gate1Box,[3,7,8,9]);
gatePlot([372,70,463,162],gate2Rings,gate2Dots,gate2Box,[4]);
R(272,70,273.5,162,'#555');R(272,161,364,162.2,'#555');
R(372,70,373.2,162,'#777');R(372,161,463,162.2,'#777');
T(355,153,'40.3',{s:5.5,b:1});T(456,153,'10.5',{s:5.5,b:1});
T(266,148,'CD3',{s:10.5,r:-90});T(285,167,'CD45',{s:10.5});T(369,150,'CD19',{s:10.5,r:-90});

/* main t-SNE */
const tsnePts=raster(tsneRaster,(ch,c,r)=>({x:(60+7.5*c+3.75-236)/9.8,y:(218-(45+7.5*r+3.75))/9.9,k:ch}));
addChart({type:'scatter',data:{datasets:[
  {data:tsnePts,pointRadius:2,borderWidth:0,pointBackgroundColor:tsnePts.map(p=>clusterColors[p.k])},
  {data:clusterNames.map((n,i)=>({x:clusterX[i],y:clusterY[i]})),pointRadius:0,txt:clusterNames.map(String),txtSize:9.6,txtWeight:'bold',txtColor:'#000',clip:false}
]},options:{scales:{
  x:{min:-20.2,max:19.8,border:{color:'#bbb',width:1.5},grid:{color:'#f2f2f2',tickLength:2,tickColor:'#777'},afterBuildTicks:a=>{a.ticks=[-20,-10,0,10].map(value=>({value}));},
    ticks:{font:{size:4.5,weight:'bold'},color:'#555',padding:1,maxRotation:0,autoSkip:false},title:{display:true,text:'tsne_1',font:{size:6,weight:'bold'},color:'#222',padding:{top:1,bottom:0}}},
  y:{min:-17.9,max:19.5,border:{color:'#bbb',width:1.5},grid:{color:'#f2f2f2',tickLength:2,tickColor:'#777'},afterBuildTicks:a=>{a.ticks=[-10,0,10].map(value=>({value}));},
    ticks:{font:{size:4.5,weight:'bold'},color:'#555',padding:1,autoSkip:false},title:{display:true,text:'tsne_2',font:{size:6,weight:'bold'},color:'#222',padding:{top:0,bottom:1}}}
}}},[522.7,53,653,177],[18,0,0,14]);
T(590,15,'Innate cells (CD3^-CD19^-)',{s:13.5,b:1});
T(590,31,'subjected to dedicated',{s:13.5,b:1});
T(590,47,'clustering analysis',{s:13.5,b:1});

/* banner */
strip(23.5,203,832,221.5,'Automated CyTOF Analysis:  Innate Immune Cells',{s:12.5,i:1,bg:'#dcdddc',bd:'#9a9a9a'});
T(16,229,'B',{s:22,b:1});

/* ---------- Colour key ---------- */
T(66,225.5,'Color Key',{s:8,b:1});T(66,235,'and Histogram',{s:8,b:1});
R(35.7,237.7,96.7,275.3).style.background='linear-gradient(to right,'+spectral.join(',')+')';
addChart({type:'scatter',data:{datasets:[{data:histCounts.map(p=>({x:p[0],y:p[1]})),showLine:true,tension:.3,pointRadius:0,borderColor:'#5fc6e0',borderWidth:1}]},
 options:{scales:{x:{min:0,max:3.21,grid:{display:false,tickLength:3,tickColor:'#333'},border:{display:true,color:'#333'},afterBuildTicks:a=>{a.ticks=[0,1,2,3].map(value=>({value}));},ticks:{font:{size:6},color:'#222',padding:3,maxRotation:0,autoSkip:false},title:{display:true,text:'Value',font:{size:6},color:'#333',padding:{top:2,bottom:0}}},
 y:{min:0,max:122,grid:{display:false,tickLength:2,tickColor:'#333'},border:{display:true,color:'#333'},afterBuildTicks:a=>{a.ticks=[0,40,100].map(value=>({value}));},ticks:{font:{size:5},color:'#222',padding:1,minRotation:90,maxRotation:90,autoSkip:false},title:{display:true,text:'Count',font:{size:4.5},color:'#333',padding:{top:0,bottom:0}}}}}},
 [35.7,237.7,96.7,275.3],[21,0,1,28]);

/* ---------- Heatmap ---------- */
addChart({type:'bar',data:{labels:markers,datasets:heatRows.map((row,i)=>({label:String(clusters[i]),data:row.map(()=>1),backgroundColor:row.map(heatColor),borderWidth:0,stack:'s',categoryPercentage:1,barPercentage:1}))},
 options:{scales:{x:{stacked:true,grid:{display:false,drawTicks:false},border:{display:false},ticks:{font:{size:8.2},color:'#222',padding:2,minRotation:90,maxRotation:90,autoSkip:false}},
 y:{display:false,stacked:true,min:0,max:40,reverse:true}}}},[141.7,296.7,459,612],[0,0,0,42]);

/* dendrogram + dashed group separators */
const treeLineData=[];
treeNames.forEach((n,i)=>{const p=treeParents[i];
  if(p!==null){const pi=treeNames.indexOf(p);treeLineData.push({x:treeDepths[pi],y:treeRows[pi]},{x:treeDepths[pi],y:treeRows[i]},{x:treeDepths[i],y:treeRows[i]},{x:treeDepths[i],y:null});}
  treeLeaves[i].forEach(l=>{treeLineData.push({x:treeDepths[i],y:treeRows[i]},{x:treeDepths[i],y:l+.5},{x:141.7,y:l+.5},{x:141.7,y:null});});});
const sepData=[];rowBreaks.forEach(r=>{sepData.push({x:141,y:r},{x:460,y:r},{x:460,y:null});});
const isBlue=n=>blueNodes.includes(n);
addChart({type:'scatter',data:{datasets:[
 {data:treeNames.map((n,i)=>({x:treeDepths[i],y:treeRows[i]})),pointRadius:treeNames.map(n=>isBlue(n)?8.2:(n==='1'?6.5:6)),pointBackgroundColor:treeNames.map(n=>isBlue(n)?'#00a8e8':'#fff'),pointBorderColor:treeNames.map(n=>isBlue(n)?'#00a8e8':'#222'),pointBorderWidth:treeNames.map(n=>n==='1'?1.2:.9),txt:treeNames,txtSize:j=>isBlue(treeNames[j])?12.5:7.8,txtColor:'#111',order:1,clip:false},
 {data:treeLineData,showLine:true,spanGaps:false,pointRadius:0,borderColor:'#333',borderWidth:1,order:2,clip:false},
 {data:sepData,showLine:true,spanGaps:false,pointRadius:0,borderColor:'#000',borderWidth:2.1,borderDash:[2.2,1.8],order:0,clip:false}
]},options:{scales:{x:{display:false,min:0,max:461},y:{display:false,min:0,max:40,reverse:true}}}},[0,296.7,461,612],[0,3,0,0]);

/* cluster labels & abundance bubbles */
addChart({type:'bubble',data:{datasets:[
 {data:mucosaAbund.map((r,i)=>({x:1,y:i+.5,r})),backgroundColor:'#ff0000',borderColor:'#111',borderWidth:.5,clip:false},
 {data:peripheryAbund.map((r,i)=>({x:2,y:i+.5,r})),backgroundColor:'#0000ff',borderColor:'#111',borderWidth:.5,clip:false}
]},options:{scales:{x:{display:false,min:.476,max:2.765},
 y:{min:0,max:40,reverse:true,grid:{display:false,drawTicks:false},border:{display:false},afterBuildTicks:a=>{a.ticks=clusters.map((c,i)=>({value:i+.5}));},ticks:{autoSkip:false,font:{size:9.4},color:'#222',padding:0,callback:v=>clusters[Math.round(v-.5)]}}}}},[472,296.7,510,612],[13,0,0,0]);
T(468,634,'Cluster',{s:8.4,r:-90,c:'#222'});
T(481,634,'Mucosa',{s:8.4,b:1,r:-90,c:'#e8141a'});
T(498,637,'Periphery',{s:8.4,b:1,r:-90,c:'#2a3fc0'});
/* size legend */
[[457,279,2.5],[468,278,3.5],[484,277,6.5],[503,277,10]].forEach(([x,y,r])=>{const d=R(x-r,y-r,x+r,y+r,'#fff','#111',.8);d.style.borderRadius='50%';});
T(456.5,263,'1%',{s:7});T(467,263,'5%',{s:7});T(482.5,263,'15%',{s:7});T(501,263,'30%',{s:7});
T(464,291,'Cluster',{s:8,c:'#222'});T(501,291,'Abundance',{s:8,c:'#222'});

/* branch directionality */
T(24,390,'-',{s:11,b:1});T(24,553,'+',{s:11,b:1});
T(24,471,'Branch directionality',{s:8,r:-90,c:'#333'});

/* ---------- Legend ---------- */
[[608,243,629,264,'ILCs',631],[658,243,679,264,'Mφ/mono',681],[730,243,751,264,'DCs',753],[778,243,799,264,'Other',802],[658,272,679,292,'APCs',681],[730,272,751,292,'Granulocytes',753]].forEach(a=>{
  R(a[0],a[1],a[2],a[3],typeColors[a[4]],'#8e8e8e',1);T(a[5],(a[1]+a[3])/2,a[4],{s:10.4,a:'l',c:'#222'});});

/* ---------- Phenotype table ---------- */
const rowY=r=>296.7+r*7.875;
cellStarts.forEach((s,i)=>{const e=cellStarts[i+1]??40;R(508,rowY(s),584,rowY(e),'#f3f3f3','#a6a6a6',1.1);
  const n=cellLines[i].length,h=n>=3?8:7.6;cellLines[i].forEach((l,j)=>T(546,(rowY(s)+rowY(e))/2+(j-(n-1)/2)*h,l,{s:6,c:'#333'}));});
bandStarts.forEach((s,i)=>{const e=bandStarts[i+1]??40;R(587,rowY(s),820.7,rowY(e),typeColors[bandTypes[i]]);});
phenoRows.forEach((l,i)=>{if(l)T(590,rowY(i)+4,l,{s:6.3,a:'l',c:'#2a2a2a'});});
[[725,299,335],[682,361,376],[728,393,437],[724,439,453],[695,487,516],[674,567,594]].forEach(a=>R(a[0]-.7,a[1],a[0]+.7,a[2],'#222'));
[[727,310,783,324,'NODE 9(-)'],[685,361,751,375,'NODE 16(+)'],[731,405,787,423,'NODE 4(-)'],[728,439,789,454,'NODE 4(+)'],[698,493,765,508,'NODE 19(+)'],[678,572,735,587,'NODE 6(-)']].forEach(a=>{
  R(a[0],a[1],a[2],a[3],'#fff','#999',.8);T((a[0]+a[2])/2,(a[1]+a[3])/2,a[4],{s:12,b:1,i:1,c:'#000'});});

/* ---------- Feature maps ---------- */
function featureMap(plot,rows,title){
  const pts=raster(rows,(ch,c,r)=>({x:c,y:r,v:+ch}));
  addChart({type:'scatter',data:{datasets:[{data:pts,pointRadius:2.1,borderWidth:0,pointBackgroundColor:pts.map(p=>digitColors[p.v])}]},
   options:{scales:{x:{display:false,min:-2.2,max:27.2},y:{display:false,min:-3.35,max:26.35,reverse:true}}}},plot);
  R(plot[0],plot[1],plot[2],plot[3],null,'#7a7a7a',1.3);
  strip(plot[0],plot[1]-20,plot[2],plot[1],title,{s:12.5,b:1,bd:'#7a7a7a',bw:1.3});
}
function nodeMap(plot,rows,colors,title,size){
  const pts=raster(rows,(ch,c,r)=>({x:c,y:r,k:ch}));
  addChart({type:'scatter',data:{datasets:[{data:pts,pointRadius:2,borderWidth:0,pointBackgroundColor:pts.map(p=>colors[p.k])}]},
   options:{scales:{x:{min:-.5,max:29.5,display:true,grid:{color:'#efefef',drawTicks:false},border:{display:false},ticks:{display:false,stepSize:5}},
                    y:{min:-.5,max:29.5,reverse:true,grid:{color:'#efefef',drawTicks:false},border:{display:false},ticks:{display:false,stepSize:5}}}}},plot,[0,0,0,0]);
  R(plot[0],plot[1],plot[2],plot[3],null,'#a0a0a0',1);
  strip(plot[0],plot[1]-20,plot[2],plot[1],title,{s:size,b:1,i:1,bg:'#fff',bd:'#a0a0a0',c:'#000'});
}
function colorbar(x1,y1,x2,y2,ticks,lx,vy){
  R(x1,y1,x2,y2).style.background='linear-gradient(to top,'+digitColors.join(',')+')';
  T((x1+x2)/2+2,vy,'value',{s:7,c:'#222'});
  ticks.forEach(([v,y])=>T(lx,y,String(v),{s:5.6,b:1,c:'#222',a:'l'}));
}
T(36,673,'C',{s:22,b:1});
nodeMap([63,695,151,781.5],node9Raster,{'#':'#d4208e'},'NODE 9(-)',13);
featureMap([153,694,239,782],cd38Raster,'CD38');
featureMap([243,694,330,782],cxcr3Raster,'CXCR3');
colorbar(343,713,351,775,[[3,728],[2,744],[1,757],[0,772]],354,705);
T(58,771,'tsne 2',{s:8,r:-90,c:'#222'});T(80,784,'tsne 1',{s:8,c:'#222'});

T(365,673,'D',{s:22,b:1});
nodeMap([381,695,469,782],node164Raster,{o:'#f5a623',t:'#0e8f8b'},'NODE 16(+),4(+)',11);
featureMap([471,695,557,782],cd11cRaster,'CD11c');
featureMap([559,695,646,782],hladrRaster,'HLA-DR');
featureMap([648,695,734,782],cd123Raster,'CD123');
featureMap([737,695,823,782],il1bRaster,'IL-1β');
colorbar(832,715,844,777,[[3,732],[2,746],[1,761],[0,775]],847,708);
[[429,768,'#f5a623','Node 16(+)'],[429,778,'#0e8f8b','Node 4(+)']].forEach(([x,y,c,l])=>{const d=R(x-3.7,y-3.7,x+3.7,y+3.7,c);d.style.borderRadius='50%';T(433,y,l,{s:6.4,a:'l',c:'#222'});});
T(374,768,'tsne 2',{s:8,r:-90,c:'#222'});T(395,787,'tsne 1',{s:8,c:'#222'});

/* ---------- Box plots ---------- */
function boxChart(plot,gl,ymin,ymax,major,minor,xmin,xmax,pts,q1,med,q3,lo,hi,brackets,tip,boxW){
  const ds=[];
  pts.forEach((g,i)=>ds.push({type:'scatter',data:g.map(p=>({x:i+1+p[0],y:p[1]})),pointRadius:2.7,borderWidth:0,backgroundColor:groupColors[i],order:5,clip:false}));
  ds.push({type:'bar',data:q1.map((v,i)=>({x:i+1,y:[v,q3[i]]})),barThickness:boxW,backgroundColor:'rgba(255,255,255,.55)',borderColor:'#111',borderWidth:1.1,borderSkipped:false,order:4});
  const wh=[],md=[];q1.forEach((v,i)=>{const x=i+1;
    wh.push({x,y:lo[i]},{x,y:v},{x,y:null},{x,y:q3[i]},{x,y:hi[i]},{x,y:null});
    md.push({x:x-.45,y:med[i]},{x:x+.45,y:med[i]},{x,y:null});});
  ds.push({type:'scatter',data:wh,showLine:true,spanGaps:false,pointRadius:0,borderColor:'#111',borderWidth:1.2,order:3});
  ds.push({type:'scatter',data:md,showLine:true,spanGaps:false,pointRadius:0,borderColor:'#000',borderWidth:2,order:2});
  const br=[];brackets.forEach(b=>br.push({x:b[0],y:b[2]-tip},{x:b[0],y:b[2]},{x:b[1],y:b[2]},{x:b[1],y:b[2]-tip},{x:b[1],y:null}));
  ds.push({type:'scatter',data:br,showLine:true,spanGaps:false,pointRadius:0,borderColor:'#8a8a8a',borderWidth:.9,order:1});
  ds.push({type:'scatter',data:brackets.map(b=>({x:(b[0]+b[1])/2,y:b[2]})),pointRadius:0,txt:brackets.map(b=>b[3]),txtSize:7.8,txtColor:'#222',txtDy:-4.6,order:0,clip:false});
  const ticks=[...major.map(value=>({value})),...minor.map(value=>({value}))];
  addChart({type:'bar',data:{datasets:ds},options:{scales:{
    x:{type:'linear',min:xmin,max:xmax,grid:{color:'#ececec',tickLength:3,tickColor:'#555'},border:{display:false},afterBuildTicks:a=>{a.ticks=[1,2,3,4,5].map(value=>({value}));},
       ticks:{autoSkip:false,minRotation:45,maxRotation:45,padding:1,color:'#111',font:{size:8.6,weight:'bold'},callback:v=>groups[v-1]}},
    y:{min:ymin,max:ymax,grid:{color:c=>major.includes(c.tick.value)?'#ececec':'#f6f6f6',tickColor:c=>major.includes(c.tick.value)?'#555':'rgba(0,0,0,0)',tickLength:3},border:{display:false},afterBuildTicks:a=>{a.ticks=ticks.slice();},
       ticks:{autoSkip:false,padding:1,color:'#111',font:{size:9.4,weight:'bold'},callback:v=>major.includes(v)?String(v):''},
       title:{display:true,text:'%Innate Cells',color:'#111',font:{size:8.4,weight:'bold'},padding:{top:0,bottom:0}}}}}},plot,[gl,0,1,44]);
  R(plot[0],plot[1],plot[2],plot[3],null,'#868686',1.2);
}
strip(58,790,351,807,'Node 9(-): Unconventional granulocytes',{s:13.3,b:1});
strip(58,807,189,824,'Mucosa',{s:14,b:1,i:1});strip(215,807,351,824,'Periphery',{s:14,b:1,i:1});
boxChart([58,824,189,1006],31,-5.7,120,[0,30,60,90],[15,45,75,105],.39,5.6,cMucPts,cMucQ1,cMucMed,cMucQ3,cMucLo,cMucHi,cMucBr,2,23);
boxChart([215,824,351,1006],25,-.85,17.7,[0,5,10,15],[2.5,7.5,12.5],.39,5.6,cPerPts,cPerQ1,cPerMed,cPerQ3,cPerLo,cPerHi,cPerBr,.3,23);
T(66,832,'Kruskal-Wallis, p = 0.012',{s:5.7,a:'l',c:'#222'});T(225,832,'Kruskal-Wallis, p = 0.17',{s:5.7,a:'l',c:'#222'});

strip(465,791,762,808,'Nodes 16(+) &amp; 4(+): DCs and pDCs',{s:13.4,b:1});
strip(465,808,600,825,'Mucosa',{s:14,b:1,i:1});strip(627,808,762,825,'Periphery',{s:14,b:1,i:1});
boxChart([465,825,600,1004],25,-2.6,51.4,[0,10,20,30,40,50],[5,15,25,35,45],.4,5.6,dMucPts,dMucQ1,dMucMed,dMucQ3,dMucLo,dMucHi,dMucBr,.8,24);
boxChart([627,825,762,1004],26,-.75,18.55,[0,5,10,15],[2.5,7.5,12.5,17.5],.4,5.6,dPerPts,dPerQ1,dPerMed,dPerQ3,dPerLo,dPerHi,dPerBr,.3,24);
T(473,830,'Kruskal-Wallis, p = 0.0022',{s:5.7,a:'l',c:'#222'});T(635,830,'Kruskal-Wallis, p = 0.0014',{s:5.7,a:'l',c:'#222'});

/* ---------- connector arrows ---------- */
const NS='http://www.w3.org/2000/svg';const sv=document.createElementNS(NS,'svg');sv.setAttribute('width',861);sv.setAttribute('height',1050);
sv.innerHTML=`<defs><marker id="ah" viewBox="0 0 10 10" refX="9" refY="5" markerWidth="7" markerHeight="7" orient="auto-start-reverse"><path d="M0 0L10 5L0 10z" fill="#111"/></marker>
<marker id="as" viewBox="0 0 10 10" refX="9" refY="5" markerWidth="4" markerHeight="4" orient="auto-start-reverse"><path d="M0 0L10 5L0 10z" fill="#222"/></marker></defs>
<polyline points="345,128 357,96 375,96" fill="none" stroke="#111" stroke-width="1.2" marker-end="url(#ah)"/>
<line x1="441" y1="143" x2="503" y2="143" stroke="#111" stroke-width="1.1" marker-end="url(#ah)"/>
<g stroke="#777" stroke-width=".8"><line x1="266" y1="135" x2="266" y2="113"/><line x1="302" y1="167" x2="323" y2="167"/><line x1="368.5" y1="135" x2="368.5" y2="113"/></g>
<g fill="none" stroke="#222" stroke-width=".8">
<circle cx="24" cy="390" r="7.3" stroke="#333"/><circle cx="24" cy="553" r="7.3" stroke="#333"/>
<line x1="24" y1="435" x2="24" y2="405" stroke-dasharray="1.5 1" marker-end="url(#as)"/><line x1="24" y1="506" x2="24" y2="538" stroke-dasharray="1.5 1" marker-end="url(#as)"/>
<line x1="58" y1="757" x2="58" y2="735" marker-end="url(#as)"/><line x1="94" y1="784" x2="115" y2="784" marker-end="url(#as)"/>
<line x1="374" y1="752" x2="374" y2="735" marker-end="url(#as)"/><line x1="411" y1="788" x2="432" y2="788" marker-end="url(#as)"/></g>`;
root.appendChild(sv);
</script></body></html>
